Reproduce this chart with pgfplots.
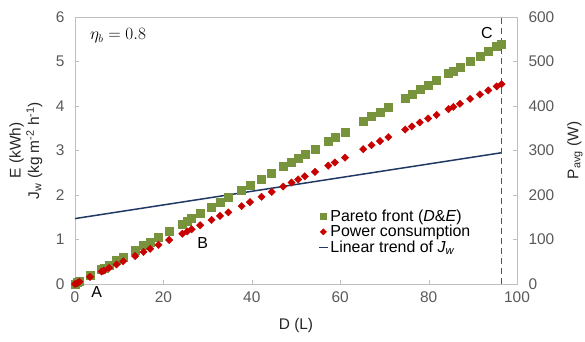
\documentclass[border=0pt]{standalone}
\usepackage{fontspec}
\setmainfont{Liberation Sans}
\usepackage{pgfplots}
\usepackage{pgfplotstable}
\pgfplotsset{compat=1.18}
\definecolor{pgreen}{RGB}{119,147,60}
\definecolor{pred}{RGB}{200,0,0}
\definecolor{pblue}{RGB}{31,56,100}
\definecolor{pdash}{RGB}{79,98,40}
\definecolor{axgray}{RGB}{191,191,191}
\definecolor{txtgray}{RGB}{89,89,89}

\pgfplotstableread{
D E P
0 0.00 0
0.5 0.03 2
1 0.06 5
3.4 0.19 16
6 0.34 28
6.5 0.36 30
7.7 0.43 36
9.4 0.53 44
10.9 0.61 51
13.6 0.76 63
15.5 0.87 72
17 0.95 79
18.9 1.06 88
21.3 1.19 99
24.3 1.34 113
25.4 1.42 118
26.4 1.48 123
28.3 1.58 132
30.9 1.73 144
32.8 1.84 153
34.7 1.94 161
37.7 2.11 175
39.6 2.22 184
42.2 2.36 196
44.5 2.49 207
47.1 2.64 219
49 2.74 228
50.5 2.83 235
52 2.91 242
54.3 3.04 252
57.3 3.21 266
58.8 3.29 273
61.1 3.42 284
65.2 3.65 303
67.1 3.76 312
69 3.86 321
70.9 3.97 330
74.7 4.18 347
76.2 4.27 354
78 4.37 363
79.9 4.47 372
81.8 4.58 380
84.5 4.73 393
85.6 4.79 398
87.1 4.88 405
89.4 5.01 416
91.6 5.13 426
93.5 5.24 435
95.4 5.34 444
96.5 5.40 449
}\data

\pgfplotstableread{
D J
0 1.47
96.5 2.95
}\trend

\pgfplotsset{base/.style={
  scale only axis, width=442bp, height=267bp,
  xmin=0, xmax=100, clip=false,
  axis line style={axgray}, tick style={axgray},
  major tick length=4bp,
  every tick label/.append style={font=\fontsize{15.5}{18}\selectfont, text=txtgray},
  /pgf/number format/assume math mode=true,
  label style={font=\fontsize{15.5}{18.5}\selectfont, text=black!85},
},
shortline/.style={legend image code/.code={\draw[#1] (0.15cm,0cm) -- (0.45cm,0cm);}},
}

\begin{document}
\begin{tikzpicture}
\begin{axis}[base,
  ymin=0, ymax=6, ytick={0,1,...,6},
  xtick={0,20,...,100}, xtick pos=bottom, ytick pos=left,
  yticklabel style={xshift=-7bp},
  xticklabel style={yshift=-4bp},
  xlabel={D (L)},
  xlabel style={at={(axis description cs:0.5,-0.157)}, anchor=center},
  ylabel={E (kWh)\\J\textsubscript{w} (kg m\textsuperscript{-2} h\textsuperscript{-1})},
  ylabel style={at={(axis description cs:-0.111,0.5)}, anchor=center, align=center},
]
\addplot[only marks, mark=square*, mark size=4bp, pgreen] table[x=D, y=E] {\data};
\addplot[pblue, line width=1.5pt] table[x=D, y=J] {\trend};
\addplot[pdash, line width=1.3pt, dash pattern=on 6bp off 4bp] coordinates {(96.5,0) (96.5,6)};
\node[anchor=west, font=\fontsize{16}{18}\selectfont] at (axis cs:2.6,5.58) {$\eta_b = 0.8$};
\node[font=\fontsize{16}{18}\selectfont] at (axis cs:4.9,-0.18) {A};
\node[font=\fontsize{16}{18}\selectfont] at (axis cs:28.9,0.93) {B};
\node[font=\fontsize{16}{18}\selectfont] at (axis cs:93.2,5.65) {C};
\end{axis}
\begin{axis}[base,
  ymin=0, ymax=600, ytick={0,100,...,600},
  axis y line*=right, axis x line=none,
  yticklabel style={xshift=8bp},
  ylabel={P\textsubscript{avg} (W)},
  ylabel style={at={(axis description cs:1.131,0.5)}, anchor=center},
  legend style={at={(axis description cs:0.548,0.29)}, anchor=north west, draw=none, fill=none,
    font=\fontsize{16}{18.5}\selectfont, row sep=-1.5bp, inner sep=1pt},
  legend cell align=left,
]
\addplot[only marks, mark=square*, mark size=2.6bp, mark options={rotate=45}, pred, forget plot] table[x=D, y=P] {\data};
\addlegendimage{only marks, mark=square*, mark size=2.8bp, pgreen}
\addlegendentry{Pareto front (\textit{D}\&\textit{E})}
\addlegendimage{only marks, mark=square*, mark size=2.2bp, mark options={rotate=45}, pred}
\addlegendentry{Power consumption}
\addlegendimage{pblue, line width=1.5pt, shortline}
\addlegendentry{Linear trend of \textit{J}\textsubscript{\textit{w}}}
\end{axis}
\pgfresetboundingbox
\path[use as bounding box] (-75bp,-58bp) rectangle (510bp,284bp);
\end{tikzpicture}
\end{document}
